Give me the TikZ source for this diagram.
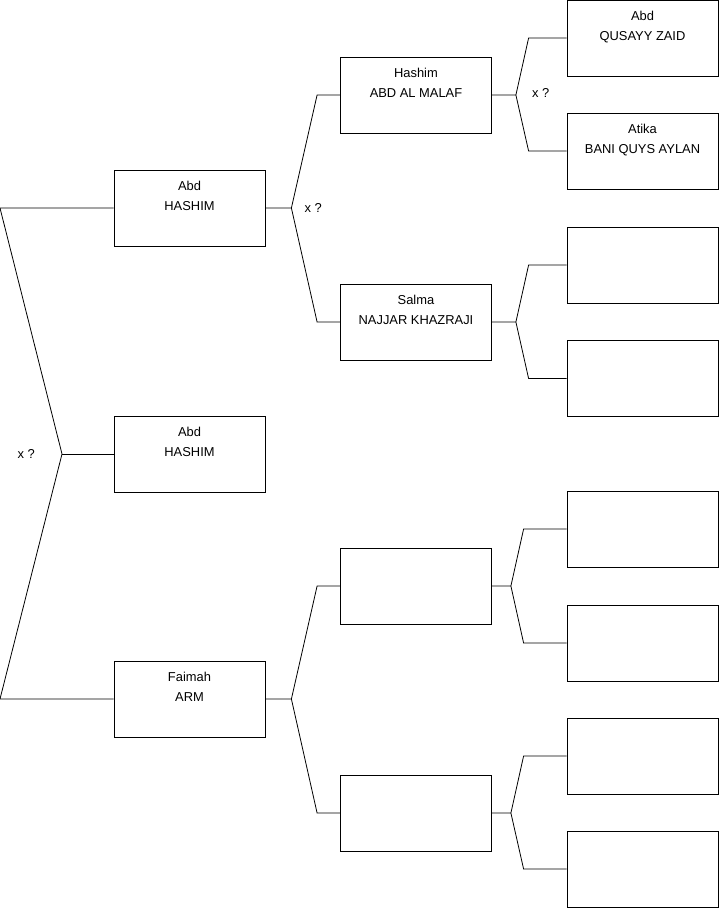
\documentclass[tikz,border=0pt]{standalone}
\usepackage{fontspec}
\setmainfont{Liberation Sans}
\usetikzlibrary{positioning}

\begin{document}
\begin{tikzpicture}[x=1pt, y=-1pt, person/.style={draw, line width=0.8pt, minimum width=151pt, minimum height=76pt, inner sep=0pt}, names/.style={anchor=north, align=center, inner sep=0pt, yshift=-11.5pt, font=\fontsize{12.9}{20}\selectfont}, link/.style={line width=0.8pt}, guess/.style={inner sep=0pt, font=\fontsize{12.9}{15}\selectfont}]
\useasboundingbox (0,0) rectangle (719,908);

% first row of boxes
\node[person, label={[names]north:{Abd\\HASHIM}}] (s1) at (189.5,208) {}; \node[person, label={[names]north:{Abd\\HASHIM}}] (s2) at (189.5,454) {}; \node[person, label={[names]north:{Faimah\\ARM}}] (s3) at (189.5,699) {};
% parents
\node[person, label={[names]north:{Hashim\\ABD AL MALAF}}] (f1) at (416,95) {}; \node[person, label={[names]north:{Salma\\NAJJAR KHAZRAJI}}] (f2) at (416,322) {};
\foreach \n/\y in {f3/586, f4/813} \node[person] (\n) at (416,\y) {};
% grandparents
\node[person, label={[names]north:{Abd\\QUSAYY ZAID}}] (g1) at (642.5,38) {}; \node[person, label={[names]north:{Atika\\BANI QUYS AYLAN}}] (g2) at (642.5,151) {};
\foreach \n/\y in {g3/265, g4/378.5, g5/529, g6/643, g7/756, g8/869} \node[person] (\n) at (642.5,\y) {};

% brackets
\coordinate (top) at (0,208); \coordinate (bot) at (0,699); \coordinate (root) at (62,454);
\draw[link] (s1.west) -- (top) -- (root) -- (bot) -- (s3.west); \draw[link] (root) -- (s2.west);
\foreach \p/\a/\b/\d/\e in {s1/f1/f2/26/23, s3/f3/f4/26/23, f1/g1/g2/24/38, f2/g3/g4/24/38, f3/g5/g6/19/43, f4/g7/g8/19/43}
  \draw[link] (\p.east) -- ++(\d pt,0) coordinate (j\p) -- ([xshift=-\e pt]\a.west) -- (\a.west) (j\p) -- ([xshift=-\e pt]\b.west) -- (\b.west);

\node[guess, left=27pt of root] (q1) {x ?}; \node[guess, right=13pt of js1] (q2) {x ?}; \node[guess, right=16pt of jf1, yshift=2pt] (q3) {x ?};
\end{tikzpicture}
\end{document}
